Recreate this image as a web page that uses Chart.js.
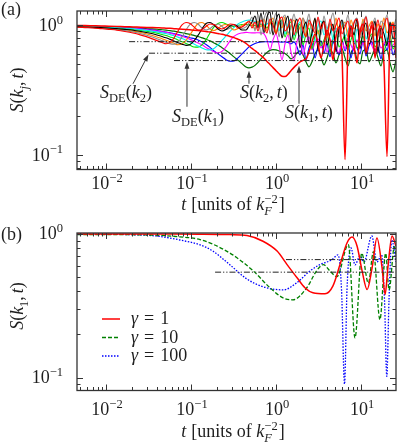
<!DOCTYPE html>
<html>
<head>
<meta charset="utf-8">
<script src="https://cdn.jsdelivr.net/npm/chart.js@4.4.1/dist/chart.umd.min.js"></script>
<style>
  html, body { margin: 0; padding: 0; background: #fff; }
  #wrap { position: relative; width: 399px; height: 446px; }
  canvas { position: absolute; left: 0; }
  #ca { top: 0; }
  #cb { top: 220px; }
  .probe { position: absolute; left: -999px; top: 0; font-family: "Liberation Serif"; }
</style>
</head>
<body>
<div id="wrap">
  <canvas id="ca" width="399" height="220"></canvas>
  <canvas id="cb" width="399" height="226"></canvas>
</div>
<span class="probe">x<i>x</i></span>
<script>
// ---- panel (a): shared time grid, one S array per k_j ----
const tGrid = [0.00456, 0.00566, 0.00703, 0.00874, 0.0108, 0.0135, 0.0167, 0.0208, 0.0258, 0.0321, 0.0398,
  0.0456, 0.0508, 0.0566, 0.0631, 0.0703, 0.0784, 0.0874, 0.0974, 0.1085, 0.1209, 0.1348, 0.1502, 0.1674, 0.1866, 0.2078, 0.2316, 0.2581, 0.2877, 0.3205, 0.3572, 0.3981,
  0.4437, 0.4812, 0.5221, 0.5663, 0.6143, 0.6664, 0.7228, 0.7841, 0.8505, 0.922, 1.0, 1.085, 1.176, 1.276, 1.384, 1.501, 1.628, 1.766, 1.916, 2.078, 2.254, 2.445, 2.652, 2.877, 3.12,
  3.385, 3.671, 3.981, 4.319, 4.684, 5.081, 5.511, 5.978, 6.484, 7.033, 7.629, 8.275, 8.976, 9.733, 10.56, 11.45, 12.42, 13.47, 14.61, 15.85, 17.19, 18.65, 20.23, 21.94, 23.8, 25.81];

const sK1 = [1.000, 0.999, 0.995, 0.991, 0.986, 0.982, 0.979, 0.974, 0.970, 0.965, 0.960,
  0.957, 0.953, 0.950, 0.945, 0.940, 0.935, 0.930, 0.925, 0.920, 0.914, 0.907, 0.899, 0.889, 0.879, 0.866, 0.854, 0.839, 0.823, 0.806, 0.783, 0.760,
  0.727, 0.695, 0.665, 0.639, 0.611, 0.585, 0.558, 0.527, 0.500, 0.473, 0.448, 0.424, 0.405, 0.403, 0.420, 0.447, 0.475, 0.500, 0.524, 0.538,
  0.552, 0.625, 0.747, 0.860, 0.721, 0.562, 0.708, 0.923, 0.774, 0.543, 0.830, 0.974, 0.593, 0.0923, 0.708, 0.991, 0.683, 0.515, 0.891, 1.027,
  0.604, 0.801, 1.009, 0.562, 0.876, 0.991, 0.488, 0.0974, 0.845, 1.027, 0.562];

const sK2 = [0.988, 0.984, 0.981, 0.977, 0.974, 0.970, 0.965, 0.960, 0.953, 0.943, 0.935,
  0.927, 0.920, 0.912, 0.904, 0.891, 0.879, 0.866, 0.853, 0.838, 0.822, 0.803, 0.783, 0.760, 0.733, 0.707, 0.674, 0.642, 0.608, 0.572, 0.540, 0.508,
  0.478, 0.471, 0.477, 0.492, 0.519, 0.552, 0.588, 0.620, 0.642, 0.650, 0.648, 0.636, 0.625, 0.609, 0.583, 0.552, 0.573, 0.614, 0.636, 0.593,
  0.524, 0.480, 0.524, 0.604, 0.648, 0.573, 0.497, 0.562, 0.648, 0.604, 0.515, 0.593, 0.659, 0.562, 0.488, 0.614, 0.659, 0.543, 0.506, 0.636,
  0.648, 0.524, 0.583, 0.659, 0.562, 0.488, 0.625, 0.648, 0.515, 0.439, 0.543];

const sK3 = [0.982, 0.981, 0.977, 0.974, 0.969, 0.963, 0.957, 0.950, 0.942, 0.932, 0.914,
  0.899, 0.889, 0.879, 0.865, 0.851, 0.836, 0.820, 0.803, 0.794, 0.774, 0.747, 0.714, 0.677, 0.635, 0.604, 0.574, 0.545, 0.529, 0.533, 0.562, 0.604,
  0.648, 0.683, 0.708, 0.727, 0.740, 0.747, 0.749, 0.749, 0.747, 0.747, 0.749, 0.747, 0.744, 0.747, 0.740, 0.721, 0.747, 0.683, 0.593, 0.708,
  0.543, 0.671, 0.734, 0.562, 0.696, 0.760, 0.614, 0.721, 0.573, 0.747, 0.659, 0.593, 0.774, 0.636, 0.708, 0.562, 0.734, 0.671, 0.604, 0.760,
  0.583, 0.696, 0.747, 0.614, 0.683, 0.552, 0.721, 0.648, 0.760, 0.593, 0.696];

const sK4 = [0.984, 0.981, 0.979, 0.974, 0.970, 0.963, 0.958, 0.950, 0.940, 0.923, 0.907,
  0.895, 0.884, 0.871, 0.857, 0.842, 0.823, 0.804, 0.781, 0.757, 0.732, 0.710, 0.677, 0.651, 0.627, 0.614, 0.631, 0.683, 0.760, 0.823, 0.860, 0.876,
  0.884, 0.879, 0.876, 0.876, 0.879, 0.876, 0.860, 0.774, 0.648, 0.774, 0.860, 0.708, 0.543, 0.721, 0.845, 0.625, 0.533, 0.747, 0.830, 0.593,
  0.721, 0.816, 0.648, 0.734, 0.788, 0.671, 0.760, 0.625, 0.708, 0.788, 0.683, 0.614, 0.747, 0.659, 0.801, 0.708, 0.636, 0.774, 0.683, 0.734,
  0.648, 0.788, 0.696, 0.625, 0.760, 0.671, 0.721, 0.801, 0.648, 0.708, 0.747];

const sK5 = [0.982, 0.979, 0.976, 0.972, 0.967, 0.962, 0.953, 0.943, 0.928, 0.912, 0.893,
  0.877, 0.866, 0.850, 0.832, 0.813, 0.792, 0.770, 0.744, 0.719, 0.694, 0.671, 0.650, 0.648, 0.665, 0.708, 0.767, 0.830, 0.899, 0.965, 1.027, 1.064,
  1.093, 1.102, 1.093, 1.073, 1.045, 1.027, 1.018, 1.027, 1.064, 0.974, 1.064, 0.907, 1.083, 0.860, 1.027, 1.122, 0.830, 0.974, 1.064, 0.801,
  1.009, 1.102, 0.876, 0.760, 0.991, 1.083, 0.845, 0.940, 1.045, 0.774, 0.957, 0.860, 1.064, 0.816, 0.923, 1.009, 0.734, 0.940, 0.860, 1.083,
  0.788, 0.907, 0.991, 0.721, 0.923, 0.845, 1.027, 0.760, 0.891, 0.974, 0.830];

const sK6 = [0.981, 0.977, 0.972, 0.969, 0.962, 0.955, 0.943, 0.930, 0.914, 0.896, 0.873,
  0.851, 0.836, 0.816, 0.796, 0.774, 0.749, 0.727, 0.704, 0.682, 0.680, 0.708, 0.774, 0.876, 0.974, 1.036, 1.054, 1.027, 0.991, 0.982, 1.000, 1.018,
  1.018, 1.012, 1.004, 1.000, 1.009, 1.018, 1.000, 0.957, 1.045, 1.083, 0.876, 1.027, 1.102, 0.816, 0.974, 1.064, 0.774, 0.923, 1.027, 0.708,
  0.860, 0.957, 0.659, 0.830, 0.923, 0.696, 0.774, 0.876, 0.625, 0.801, 0.907, 0.683, 0.747, 0.845, 0.648, 0.774, 0.876, 0.671, 0.721, 0.830,
  0.636, 0.788, 0.860, 0.683, 0.747, 0.816, 0.648, 0.760, 0.845, 0.659, 0.734];

const sK7 = [0.979, 0.974, 0.970, 0.963, 0.957, 0.945, 0.933, 0.919, 0.899, 0.876, 0.845,
  0.822, 0.803, 0.781, 0.758, 0.737, 0.717, 0.702, 0.714, 0.760, 0.838, 0.940, 1.036, 1.054, 1.009, 0.940, 0.907, 0.932, 0.991, 1.018, 0.974, 0.923,
  0.923, 0.991, 1.064, 1.183, 0.957, 1.248, 0.876, 1.162, 1.270, 0.845, 1.102, 1.226, 0.801, 1.027, 1.183, 0.747, 0.974, 1.122, 0.671, 0.923,
  1.064, 0.721, 0.876, 1.142, 0.648, 0.957, 1.083, 0.708, 0.860, 1.027, 0.625, 0.940, 1.102, 0.760, 0.683, 0.991, 0.845, 1.122, 0.659, 0.907,
  1.045, 0.721, 0.816, 1.083, 0.614, 0.957, 0.860, 0.696, 1.064, 0.788, 0.923];

const sK8 = [0.976, 0.972, 0.965, 0.958, 0.948, 0.937, 0.922, 0.904, 0.882, 0.853, 0.816,
  0.790, 0.770, 0.748, 0.728, 0.710, 0.721, 0.767, 0.845, 0.948, 1.036, 1.054, 1.009, 0.940, 0.915, 0.948, 1.000, 1.018, 0.974, 0.923, 0.948, 1.000,
  1.045, 1.064, 1.027, 0.940, 1.083, 0.974, 1.122, 0.907, 1.027, 1.142, 0.876, 1.064, 0.957, 1.162, 0.845, 1.009, 1.102, 0.891, 0.974, 1.142,
  0.830, 1.045, 0.940, 1.122, 0.860, 0.991, 1.083, 0.801, 1.027, 0.923, 1.142, 0.876, 0.974, 1.064, 0.816, 1.102, 0.940, 1.009, 0.845, 1.122,
  0.907, 0.991, 1.083, 0.830, 1.027, 0.940, 1.142, 0.876, 0.974, 1.064, 0.860];

const sK9 = [0.974, 0.969, 0.962, 0.953, 0.942, 0.927, 0.912, 0.891, 0.863, 0.829, 0.790,
  0.764, 0.744, 0.724, 0.717, 0.740, 0.816, 0.923, 1.018, 1.054, 1.027, 0.957, 0.923, 0.948, 1.000, 1.027, 0.982, 0.932, 0.957, 1.009, 1.000, 0.948,
  0.974, 1.045, 1.162, 0.907, 1.226, 0.845, 1.122, 1.270, 0.860, 1.027, 1.248, 0.816, 1.083, 1.204, 0.876, 0.974, 1.226, 0.923, 0.830, 1.142,
  1.027, 1.226, 0.876, 0.974, 1.122, 0.845, 1.183, 0.940, 1.045, 1.248, 0.907, 0.816, 1.102, 0.991, 1.204, 0.860, 1.064, 1.142, 0.801, 1.009,
  1.183, 0.923, 0.974, 1.142, 0.830, 1.083, 1.027, 1.204, 0.891, 0.957, 1.122];

const sK10 = [0.970, 0.963, 0.957, 0.945, 0.933, 0.919, 0.899, 0.874, 0.842, 0.806, 0.764,
  0.740, 0.723, 0.740, 0.801, 0.907, 1.009, 1.054, 1.036, 0.974, 0.923, 0.932, 0.982, 1.027, 1.018, 0.965, 0.940, 0.974, 1.027, 1.018, 0.957, 0.974,
  1.027, 1.083, 0.957, 1.064, 0.907, 1.102, 0.974, 0.876, 1.122, 1.009, 0.860, 1.083, 1.162, 0.907, 0.974, 1.122, 0.845, 1.027, 1.142, 0.923,
  0.816, 1.102, 0.991, 0.876, 1.162, 0.940, 1.064, 0.830, 1.122, 0.907, 1.009, 1.142, 0.860, 0.974, 1.083, 0.816, 1.045, 1.122, 0.891, 0.957,
  1.162, 0.845, 1.064, 0.923, 1.102, 0.801, 0.991, 1.142, 0.876, 1.027, 0.940];

// dash-dot S_DE levels in (a) and where each starts
const sdeLevelA = [0.75, 0.611, 0.536];
const sdeStartA = [0.0187, 0.0321, 0.0631];

// ---- panel (b): S(k1,t) for three gamma values, [t, S] ----
const gamma1 = [[0.0046, 1.0], [0.05, 0.999], [0.128, 0.997], [0.288, 0.99], [0.456, 0.975], [0.703, 0.89], [1.03, 0.76],
  [1.35, 0.612], [1.77, 0.495], [2.19, 0.422], [2.72, 0.389], [3.77, 0.383], [4.68, 0.435], [5.66, 0.612], [6.84, 0.866],
  [7.84, 0.953], [8.98, 0.825], [10.3, 0.553], [11.8, 0.41], [13.5, 0.581], [15.4, 0.938], [17.7, 0.581], [19.2, 0.379],
  [20.8, 0.6], [23.2, 0.969], [25.8, 0.82]];
const gamma10 = [[0.0046, 0.992], [0.033, 0.984], [0.074, 0.955], [0.128, 0.915], [0.18, 0.85], [0.31, 0.715], [0.54, 0.553],
  [0.85, 0.422], [1.21, 0.359], [1.58, 0.348], [2.3, 0.422], [3.0, 0.553], [3.6, 0.612], [4.3, 0.553], [5.2, 0.505],
  [7.1, 0.843], [8.5, 0.189], [10.2, 0.734], [12.2, 0.455], [14.0, 0.754], [16.7, 0.253], [19.5, 0.734], [21.4, 0.408],
  [24.7, 0.816], [25.8, 0.72]];
const gamma100 = [[0.0046, 0.997], [0.0192, 0.99], [0.0433, 0.961], [0.0742, 0.908], [0.128, 0.839], [0.18, 0.762], [0.288, 0.609],
  [0.452, 0.487], [0.703, 0.429], [1.22, 0.408], [1.75, 0.457], [2.51, 0.553], [3.29, 0.612], [4.52, 0.66], [5.36, 0.715],
  [5.9, 0.408], [6.4, 0.09], [6.84, 0.408], [7.63, 0.8], [8.5, 0.609], [9.73, 0.703], [10.85, 0.639], [13.4, 0.969],
  [15.4, 0.639], [17.5, 0.715], [18.9, 0.348], [20.1, 0.102], [21.35, 0.348], [23.0, 0.908], [25.8, 0.639]];
const sdeLevelB = [0.663, 0.542];
const sdeStartB = [1.31, 0.192];

// tick labels
const xTickVals = [0.01, 0.1, 1, 10];
const xTickExps = ['\u22122', '\u22121', '0', '1'];
const yTickVals = [0.1, 1];
const yTickExps = ['\u22121', '0'];

// ---- drawing helpers ----
const FONT = '"Liberation Serif", "Times New Roman", "DejaVu Serif", serif';
const FS = 18, FS_SMALL = 12.5;
const INK = '#1e1e1e';

function setFont(ctx, p) {
  const size = (p.sub || p.sup) ? FS_SMALL : FS;
  ctx.font = (p.i ? 'italic ' : '') + size + 'px ' + FONT;
}
function richWidth(ctx, parts) {
  let w = 0;
  parts.forEach(p => {
    if (p.g) { w += p.g; return; }
    setFont(ctx, p);
    if (!p.keep) w += ctx.measureText(p.s).width;
  });
  return w;
}
function drawRich(ctx, parts, x, y, align) {
  const w = richWidth(ctx, parts);
  let cx = align === 'center' ? x - w / 2 : align === 'right' ? x - w : x;
  ctx.textAlign = 'left';
  ctx.textBaseline = 'alphabetic';
  parts.forEach(p => {
    if (p.g) { cx += p.g; return; }
    setFont(ctx, p);
    const dy = p.sub ? FS * 0.25 : p.sup ? -FS * 0.4 : 0;
    ctx.fillText(p.s, cx, y + dy);
    if (!p.keep) cx += ctx.measureText(p.s).width;
  });
}
function arrow(ctx, x0, y0, x1, y1) {
  const ang = Math.atan2(y1 - y0, x1 - x0), L = 7, W = 2.4;
  const c = Math.cos(ang), s = Math.sin(ang);
  ctx.beginPath();
  ctx.moveTo(x0, y0);
  ctx.lineTo(x1 - c * L * 0.7, y1 - s * L * 0.7);
  ctx.stroke();
  ctx.beginPath();
  ctx.moveTo(x1, y1);
  ctx.lineTo(x1 - L * c + W * s, y1 - L * s - W * c);
  ctx.lineTo(x1 - L * c - W * s, y1 - L * s + W * c);
  ctx.closePath();
  ctx.fill();
}
function logTicks(min, max) {
  const major = [], minor = [];
  for (let e = -3; e <= 2; e++) {
    for (let m = 1; m <= 9; m++) {
      const v = m * Math.pow(10, e);
      if (v < min * 0.999 || v > max * 1.001) continue;
      (m === 1 ? major : minor).push(v);
    }
  }
  return { major, minor };
}

const xTitle = [{ s: 't', i: 1 }, { g: 5 }, { s: '[units of ' }, { s: 'k', i: 1 },
  { s: 'F', i: 1, sub: 1, keep: 1 }, { s: '\u22122', sup: 1 }, { g: 1 }, { s: ']' }];

function framePlugin(opt) {
  return {
    id: 'frame',
    afterDraw(chart) {
      const ctx = chart.ctx, a = chart.chartArea, xs = chart.scales.x, ys = chart.scales.y;
      ctx.save();
      // inward ticks on all four sides
      ctx.strokeStyle = '#333';
      ctx.lineWidth = 1;
      const xt = logTicks(xs.min, xs.max), yt = logTicks(ys.min, ys.max);
      ctx.beginPath();
      [[xt.major, 6], [xt.minor, 3.5]].forEach(([vals, len]) => vals.forEach(v => {
        const px = Math.round(xs.getPixelForValue(v)) + 0.5;
        ctx.moveTo(px, a.bottom); ctx.lineTo(px, a.bottom - len);
        ctx.moveTo(px, a.top); ctx.lineTo(px, a.top + len);
      }));
      [[yt.major, 6], [yt.minor, 3.5]].forEach(([vals, len]) => vals.forEach(v => {
        const py = Math.round(ys.getPixelForValue(v)) + 0.5;
        ctx.moveTo(a.left, py); ctx.lineTo(a.left + len, py);
        ctx.moveTo(a.right, py); ctx.lineTo(a.right - len, py);
      }));
      ctx.stroke();
      ctx.lineWidth = 1.3;
      ctx.strokeRect(a.left, a.top, a.right - a.left, a.bottom - a.top);

      // tick labels
      ctx.fillStyle = INK;
      xTickVals.forEach((v, k) => {
        drawRich(ctx, [{ s: '10' }, { s: xTickExps[k], sup: 1 }], xs.getPixelForValue(v) + 1, a.bottom + opt.xLabOff, 'center');
      });
      yTickVals.forEach((v, k) => {
        drawRich(ctx, [{ s: '10' }, { s: yTickExps[k], sup: 1 }], a.left - 14, ys.getPixelForValue(v) + 5.5, 'right');
      });

      // axis titles
      drawRich(ctx, xTitle, 233, opt.xTitleY, 'center');
      ctx.save();
      ctx.translate(23, opt.yTitleY);
      ctx.rotate(-Math.PI / 2);
      drawRich(ctx, opt.yTitle, 0, 0, 'center');
      ctx.restore();

      // panel tag
      ctx.font = FS + 'px ' + FONT;
      ctx.fillText(opt.tag, 1, opt.tagY);

      if (opt.extra) opt.extra(ctx, a, xs, ys);
      ctx.restore();
    }
  };
}

const baseScales = (xMin, xMax, yMin, yMax, xH, yW) => ({
  x: {
    type: 'logarithmic', min: xMin, max: xMax,
    ticks: { display: false }, grid: { display: false }, border: { display: false },
    afterFit: s => { s.height = xH; }
  },
  y: {
    type: 'logarithmic', min: yMin, max: yMax,
    ticks: { display: false }, grid: { display: false }, border: { display: false },
    afterFit: s => { s.width = yW; }
  }
});

const sdeDash = [6, 2, 1.2, 2, 1.2, 2];
const curve = s => tGrid.map((t, i) => ({ x: t, y: s[i] }));
const pairs = arr => arr.map(([t, s]) => ({ x: t, y: s }));
const hline = (lv, t0) => [{ x: t0, y: lv }, { x: 25.8, y: lv }];

// ---- chart (a) ----
const annA = [
  { t: 0.0085, s: 0.277, parts: [{ s: 'S', i: 1 }, { s: 'DE', sub: 1 }, { s: '(' }, { s: 'k', i: 1 }, { s: '2', sub: 1 }, { s: ')' }],
    from: [0.0208, 0.355], to: [0.0316, 0.598] },
  { t: 0.0598, s: 0.181, parts: [{ s: 'S', i: 1 }, { s: 'DE', sub: 1 }, { s: '(' }, { s: 'k', i: 1 }, { s: '1', sub: 1 }, { s: ')' }],
    from: [0.0897, 0.236], to: [0.0897, 0.524] },
  { t: 0.377, s: 0.277, parts: [{ s: 'S', i: 1 }, { s: '(' }, { s: 'k', i: 1 }, { s: '2', sub: 1 }, { s: ',' }, { g: 3 }, { s: 't', i: 1 }, { s: ')' }],
    from: [0.481, 0.355], to: [0.481, 0.447] },
  { t: 1.276, s: 0.194, parts: [{ s: 'S', i: 1 }, { s: '(' }, { s: 'k', i: 1 }, { s: '1', sub: 1 }, { s: ',' }, { g: 3 }, { s: 't', i: 1 }, { s: ')' }],
    from: [1.865, 0.249], to: [1.865, 0.488] }
];

const curvesA = [
  [sK1, '#ff0000', 1.5], [sK10, '#ff0000', 1.1], [sK7, '#000000', 1.1], [sK9, '#8a8a8a', 1.1],
  [sK8, '#ff8000', 1.1], [sK5, '#00eeee', 1.1], [sK6, '#00e000', 1.1], [sK4, '#ff00ff', 1.1],
  [sK3, '#0000ff', 1.1], [sK2, '#007000', 1.2]
];

function drawAll() {
  new Chart(document.getElementById('ca'), {
    type: 'line',
    data: {
      datasets: [
        ...sdeLevelA.map((lv, k) => ({ data: hline(lv, sdeStartA[k]), borderColor: '#222', borderWidth: 1, borderDash: sdeDash })),
        ...curvesA.map(([s, c, w]) => ({ data: curve(s), borderColor: c, borderWidth: w, cubicInterpolationMode: 'monotone' }))
      ]
    },
    options: {
      responsive: false, animation: false, devicePixelRatio: 1,
      layout: { padding: { top: 11, right: 3, left: 0, bottom: 0 } },
      plugins: { legend: { display: false }, tooltip: { enabled: false } },
      elements: { point: { radius: 0 } },
      scales: baseScales(0.00456, 25.8, 0.0774, 1.293, 50.5, 77)
    },
    plugins: [framePlugin({
      xLabOff: 19.5, xTitleY: 210, yTitleY: 90, tag: '(a)', tagY: 15,
      yTitle: [{ s: 'S', i: 1 }, { s: '(' }, { s: 'k', i: 1 }, { s: 'j', i: 1, sub: 1 }, { s: ',' }, { g: 3 }, { s: 't', i: 1 }, { s: ')' }],
      extra: (ctx, a, xs, ys) => {
        ctx.strokeStyle = '#333';
        ctx.lineWidth = 1;
        annA.forEach(n => {
          ctx.fillStyle = '#333';
          arrow(ctx, xs.getPixelForValue(n.from[0]), ys.getPixelForValue(n.from[1]),
            xs.getPixelForValue(n.to[0]), ys.getPixelForValue(n.to[1]));
          ctx.fillStyle = INK;
          drawRich(ctx, n.parts, xs.getPixelForValue(n.t), ys.getPixelForValue(n.s), 'left');
        });
      }
    })]
  });

  // ---- chart (b) ----
  const legendB = [
    { label: '1', color: '#ff0000', dash: [], width: 1.5 },
    { label: '10', color: '#008000', dash: [4, 2], width: 1.3 },
    { label: '100', color: '#0000ff', dash: [1.5, 1.5], width: 1.3 }
  ];

  new Chart(document.getElementById('cb'), {
    type: 'line',
    data: {
      datasets: [
        ...sdeLevelB.map((lv, k) => ({ data: hline(lv, sdeStartB[k]), borderColor: '#222', borderWidth: 1, borderDash: sdeDash })),
        { data: pairs(gamma1), borderColor: '#ff0000', borderWidth: 1.5, cubicInterpolationMode: 'monotone' },
        { data: pairs(gamma10), borderColor: '#008000', borderWidth: 1.3, borderDash: [4, 2], cubicInterpolationMode: 'monotone' },
        { data: pairs(gamma100), borderColor: '#0000ff', borderWidth: 1.3, borderDash: [1.5, 1.5], cubicInterpolationMode: 'monotone' }
      ]
    },
    options: {
      responsive: false, animation: false, devicePixelRatio: 1,
      layout: { padding: { top: 13, right: 3, left: 0, bottom: 0 } },
      plugins: { legend: { display: false }, tooltip: { enabled: false } },
      elements: { point: { radius: 0 } },
      scales: baseScales(0.00456, 25.8, 0.0812, 1.016, 55.5, 77)
    },
    plugins: [framePlugin({
      xLabOff: 24.5, xTitleY: 217, yTitleY: 86, tag: '(b)', tagY: 20,
      yTitle: [{ s: 'S', i: 1 }, { s: '(' }, { s: 'k', i: 1 }, { s: '1', sub: 1 }, { s: ',' }, { g: 3 }, { s: 't', i: 1 }, { s: ')' }],
      extra: (ctx, a) => {
        legendB.forEach((it, k) => {
          const y = a.top + 86 + k * 18.5;
          ctx.save();
          ctx.strokeStyle = it.color;
          ctx.lineWidth = it.width;
          ctx.setLineDash(it.dash);
          ctx.beginPath();
          ctx.moveTo(a.left + 25, y);
          ctx.lineTo(a.left + 43, y);
          ctx.stroke();
          ctx.restore();
          ctx.fillStyle = INK;
          drawRich(ctx, [{ s: '\u03b3', i: 1 }, { g: 6 }, { s: '=' }, { g: 6 }, { s: it.label }], a.left + 54, y + 5, 'left');
        });
      }
    })]
  });
}

// make sure the serif faces are resolved before the canvas text is drawn
Promise.all([
  document.fonts.load('18px "Liberation Serif"'),
  document.fonts.load('italic 18px "Liberation Serif"')
]).catch(() => null).then(drawAll);
</script>
</body>
</html>
